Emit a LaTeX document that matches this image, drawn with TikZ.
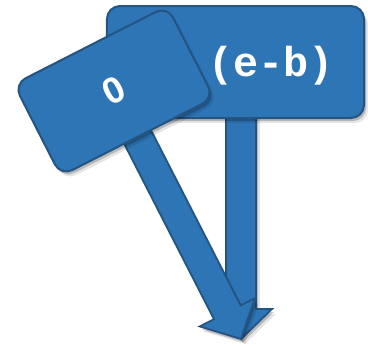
\documentclass[tikz,border=0pt]{standalone}
\usepackage{fontspec}
\setmonofont{Liberation Mono}
\newfontfamily\digitfont{Liberation Sans}
\usetikzlibrary{calc,shadows,backgrounds}
\definecolor{boxblue}{RGB}{46,117,182}
\definecolor{boxedge}{RGB}{35,84,130}

\tikzset{
  softshadow/.style={drop shadow={shadow xshift=2bp,shadow yshift=-3bp,opacity=.2,fill=black},
    drop shadow={shadow xshift=4bp,shadow yshift=-5bp,opacity=.1,fill=black}},
  termbox/.style={draw=boxedge,fill=boxblue,line width=2bp,rounded corners=13bp,softshadow},
  termtext/.style={text=white,font=\ttfamily\bfseries\fontsize{42}{50}\selectfont},
  blockarrow/.style={draw=boxedge,fill=boxblue,line width=1.8bp,line join=miter,softshadow}
}

\begin{document}
\begin{tikzpicture}[x=1bp,y=-1bp]
  \useasboundingbox (0,0) rectangle (368,346);
  % the two boxes
  \node[termbox,minimum width=257bp,minimum height=112bp] (diff) at (235.5,62) {};
  \node[termtext] (difftext) at (271,66) {(e-b)};
  \node[termbox,rotate=27,minimum width=172bp,minimum height=103bp,text=white,
    font=\digitfont\bfseries\fontsize{37}{44}\selectfont] (zero) at (114,91) {0};
  \coordinate (tip) at (241,339);
  \coordinate (vstart) at (diff.center -| tip);
  % block arrows into the common tip
  \begin{scope}[on background layer]
    \foreach \s/\n in {vstart/va,zero.center/sa} {
      \coordinate (\n-b) at ($(tip)!30bp!(\s)$);
      \draw[blockarrow] ($(\s)!15bp!90:(tip)$) -- ($(\n-b)!15bp!90:(tip)$)
        -- ($(\n-b)!31bp!90:(tip)$) -- (tip) -- ($(\n-b)!31bp!-90:(tip)$)
        -- ($(\n-b)!15bp!-90:(tip)$) -- ($(\s)!15bp!-90:(tip)$) -- cycle;
    }
  \end{scope}
\end{tikzpicture}
\end{document}
